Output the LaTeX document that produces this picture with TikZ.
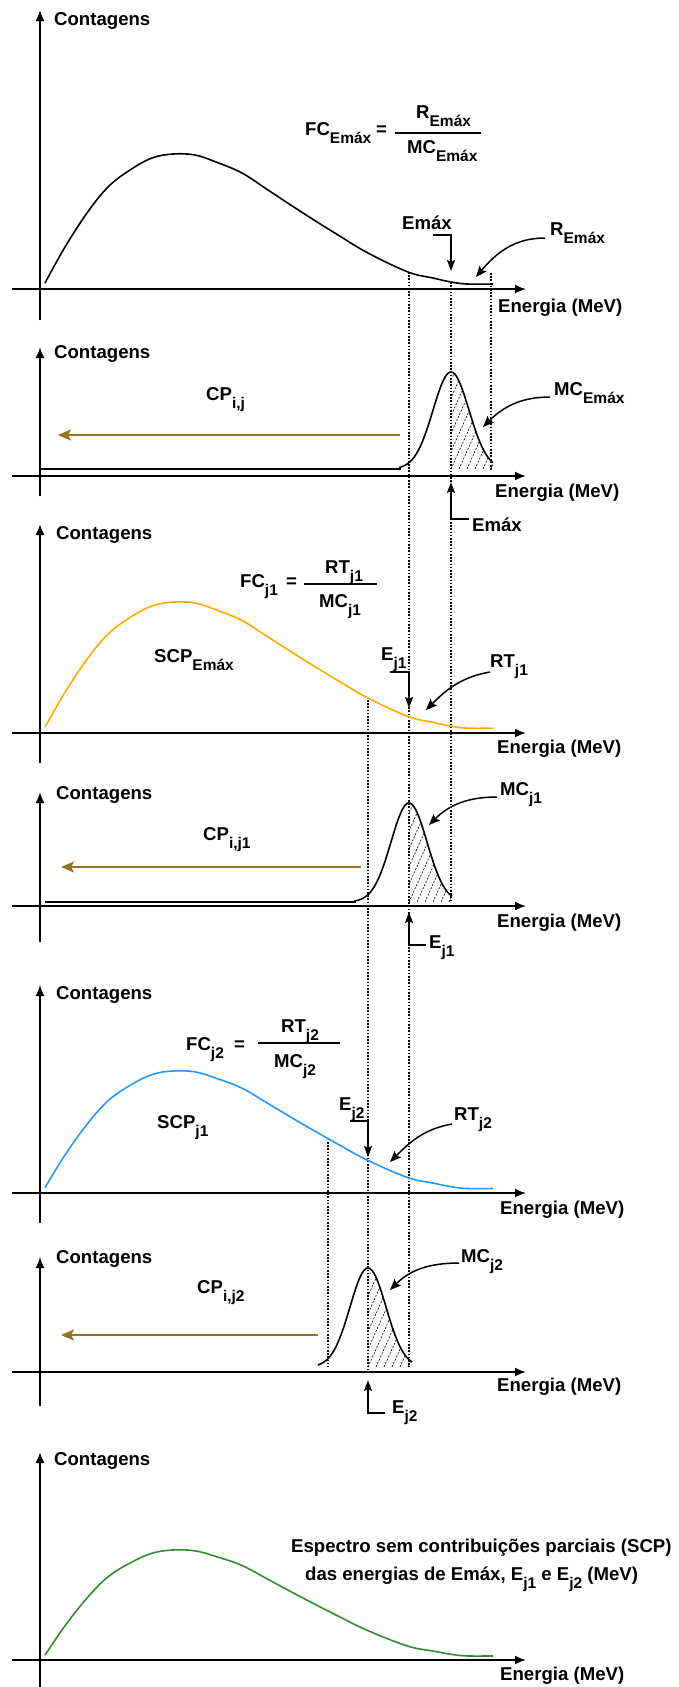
\documentclass[tikz,border=0pt]{standalone}
\usepackage{fontspec}
\setmainfont{Liberation Sans}
\usetikzlibrary{arrows.meta}
\definecolor{cpbrown}{RGB}{150,115,30}
\definecolor{specorange}{RGB}{255,170,0}
\definecolor{specblue}{RGB}{40,150,255}
\definecolor{specgreen}{RGB}{50,140,50}
\newcommand{\sbs}[1]{\raisebox{-8pt}{\fontsize{15.5}{15.5}\selectfont #1}}
\tikzset{
  lbl/.style={inner sep=0pt, anchor=base west, font=\fontsize{18.6}{20}\selectfont\bfseries},
  axisln/.style={line width=1.8pt, -{Latex[length=11pt,width=9pt]}},
  dotln/.style={line width=1.1pt, dash pattern=on 1.6pt off 1.6pt},
  callout/.style={line width=1.5pt, -{Stealth[length=11pt,width=9pt,inset=2pt]}},
  bracket/.style={line width=1.5pt, -{Stealth[length=11pt,width=8pt,inset=2pt]}},
  spec/.style={line width=1.6pt},
  cparrow/.style={line width=2pt, cpbrown, -{Stealth[length=13pt,width=11pt,inset=3pt]}},
  hatchln/.style={line width=0.6pt, dash pattern=on 2pt off 1.5pt},
  fracbar/.style={line width=1.5pt},
}
\begin{document}
\begin{tikzpicture}[x=1pt,y=-1pt]
\useasboundingbox (0,0) rectangle (679,1687);

% ---------- dotted guide lines ----------
\coordinate (L4a) at (491,273);  \coordinate (L4b) at (491,470);
\coordinate (L3a) at (451,282);  \coordinate (L3b) at (451,902);
\coordinate (L2a) at (409,272);  \coordinate (L2b) at (409,1367);
\coordinate (L1a) at (368,700);  \coordinate (L1b) at (368,1372);
\coordinate (L0a) at (328,1142); \coordinate (L0b) at (328,1367);
\draw[dotln] (L4a) -- (L4b);
\draw[dotln] (L3a) -- (L3b);
\draw[dotln] (L2a) -- (L2b);
\draw[dotln] (L1a) -- (L1b);
\draw[dotln] (L0a) -- (L0b);

% ---------- axes ----------
\foreach \n/\yt/\yb/\ya in {1/10/320/289, 2/347/496/476, 3/524/763/733, 4/792/942/906, 5/985/1223/1193, 6/1257/1406/1372, 7/1452/1687/1660} {
  \coordinate (yb\n) at (40,\yb);
  \coordinate (yt\n) at (40,\yt);
  \coordinate (xl\n) at (12,\ya);
  \coordinate (xr\n) at (526,\ya);
  \draw[axisln] (yb\n) -- (yt\n);
  \draw[axisln] (xl\n) -- (xr\n);
}
\foreach \n/\cx/\cy/\ex/\ey in {1/54/25/498/312, 2/54/358/495/497, 3/56/539/497/753, 4/56/799/497/927, 5/56/999/500/1214, 6/56/1263/497/1391, 7/54/1465/500/1680} {
  \node[lbl] (cont\n) at (\cx,\cy) {Contagens};
  \node[lbl] (ener\n) at (\ex,\ey) {Energia (MeV)};
}

% ---------- panel 1 ----------
\begin{scope}[shift={(0,289)}]
\draw[spec] plot[smooth, tension=0.6] coordinates {(45,-6) (65,-42) (87,-76) (108,-102) (130,-119) (152,-131) (173,-135) (195,-134) (216,-127) (242,-116) (268,-99) (303,-76) (338,-54) (368,-36) (408,-17) (433,-11) (451,-7) (467,-5) (493,-5)};
\end{scope}
\node[lbl] (fc1) at (305,135) {FC\sbs{Emáx}};
\node[lbl] (eq1) at (376,135) {=};
\node[lbl] (num1) at (416,118) {R\sbs{Emáx}};
\node[lbl] (den1) at (407,153) {MC\sbs{Emáx}};
\coordinate (bar1a) at (395,133); \coordinate (bar1b) at (481,133);
\draw[fracbar] (bar1a) -- (bar1b);
\node[lbl] (emax1) at (402,229) {Emáx};
\coordinate (em1s) at (433,235); \coordinate (em1t) at (451,271);
\draw[bracket] (em1s) -| (em1t);
\node[lbl] (remax) at (550,235) {R\sbs{Emáx}};
\coordinate (re1s) at (545,238); \coordinate (re1t) at (476,277);
\draw[callout] (re1s) to[out=180,in=50] (re1t);

% ---------- panel 2 ----------
\begin{scope}
\clip (451,469) -- plot[domain=451:493, samples=40] (\x,{469-97*exp(-0.5*((\x-451)/18)*((\x-451)/18))}) -- (493,469) -- cycle;
\foreach \k in {-64,-56,...,48} { \draw[hatchln] ({451+\k},469) -- ++(45,-100); }
\end{scope}
\draw[spec] (41,469) -- (400,469) -- plot[domain=400:493, samples=80] (\x,{469-97*exp(-0.5*((\x-451)/18)*((\x-451)/18))});
\node[lbl] (cp1) at (206,400) {CP\sbs{i,j}};
\coordinate (cp1s) at (400,435); \coordinate (cp1t) at (58,435);
\draw[cparrow] (cp1s) -- (cp1t);
\node[lbl] (mce) at (554,395) {MC\sbs{Emáx}};
\coordinate (mce_s) at (550,397); \coordinate (mce_t) at (483,427);
\draw[callout] (mce_s) to[out=180,in=45] (mce_t);
\node[lbl] (emax2) at (472,531) {Emáx};
\coordinate (em2s) at (469,519); \coordinate (em2t) at (451,482);
\draw[bracket] (em2s) -| (em2t);

% ---------- panel 3 ----------
\begin{scope}[shift={(0,733)}, yscale=0.97]
\draw[spec, specorange] plot[smooth, tension=0.6] coordinates {(45,-6) (65,-42) (87,-76) (108,-102) (130,-119) (152,-131) (173,-135) (195,-134) (216,-127) (242,-116) (268,-99) (303,-76) (338,-54) (368,-36) (408,-17) (433,-11) (451,-7) (467,-5) (493,-5)};
\end{scope}
\node[lbl] (fcj1) at (240,587) {FC\sbs{j1}};
\node[lbl] (eq3) at (286,587) {=};
\node[lbl] (num3) at (325,573) {RT\sbs{j1}};
\node[lbl] (den3) at (319,607) {MC\sbs{j1}};
\coordinate (bar3a) at (304,584); \coordinate (bar3b) at (377,584);
\draw[fracbar] (bar3a) -- (bar3b);
\node[lbl] (scpe) at (154,662) {SCP\sbs{Emáx}};
\node[lbl] (ej1) at (381,660) {E\sbs{j1}};
\coordinate (ej1s) at (390,672); \coordinate (ej1t) at (409,708);
\draw[bracket] (ej1s) -| (ej1t);
\node[lbl] (rtj1) at (490,667) {RT\sbs{j1}};
\coordinate (rt1s) at (490,672); \coordinate (rt1t) at (426,710);
\draw[callout] (rt1s) to[out=190,in=45] (rt1t);

% ---------- panel 4 ----------
\begin{scope}
\clip (409,902) -- plot[domain=409:452, samples=40] (\x,{902-99*exp(-0.5*((\x-409)/18)*((\x-409)/18))}) -- (452,902) -- cycle;
\foreach \k in {-64,-56,...,48} { \draw[hatchln] ({409+\k},902) -- ++(45,-100); }
\end{scope}
\draw[spec] (45,902) -- (355,902) -- plot[domain=355:452, samples=80] (\x,{902-99*exp(-0.5*((\x-409)/18)*((\x-409)/18))});
\node[lbl] (cp4) at (203,840) {CP\sbs{i,j1}};
\coordinate (cp4s) at (361,867); \coordinate (cp4t) at (61,867);
\draw[cparrow] (cp4s) -- (cp4t);
\node[lbl] (mcj1) at (500,795) {MC\sbs{j1}};
\coordinate (mc4s) at (497,797); \coordinate (mc4t) at (429,825);
\draw[callout] (mc4s) to[out=180,in=45] (mc4t);
\node[lbl] (ej1b) at (429,948) {E\sbs{j1}};
\coordinate (ej1bs) at (426,945); \coordinate (ej1bt) at (409,912);
\draw[bracket] (ej1bs) -| (ej1bt);

% ---------- panel 5 ----------
\begin{scope}[shift={(0,1193)}, yscale=0.904]
\draw[spec, specblue] plot[smooth, tension=0.6] coordinates {(45,-6) (65,-42) (87,-76) (108,-102) (130,-119) (152,-131) (173,-135) (195,-134) (216,-127) (242,-116) (268,-99) (303,-76) (338,-54) (368,-36) (408,-17) (433,-11) (451,-7) (467,-5) (493,-5)};
\end{scope}
\node[lbl] (fcj2) at (186,1050) {FC\sbs{j2}};
\node[lbl] (eq5) at (234,1050) {=};
\node[lbl] (num5) at (281,1032) {RT\sbs{j2}};
\node[lbl] (den5) at (274,1067) {MC\sbs{j2}};
\coordinate (bar5a) at (258,1043); \coordinate (bar5b) at (340,1043);
\draw[fracbar] (bar5a) -- (bar5b);
\node[lbl] (scpj1) at (157,1128) {SCP\sbs{j1}};
\node[lbl] (ej2) at (339,1110) {E\sbs{j2}};
\coordinate (ej2s) at (350,1121); \coordinate (ej2t) at (368,1157);
\draw[bracket] (ej2s) -| (ej2t);
\node[lbl] (rtj2) at (454,1120) {RT\sbs{j2}};
\coordinate (rt2s) at (452,1124); \coordinate (rt2t) at (390,1162);
\draw[callout] (rt2s) to[out=190,in=45] (rt2t);

% ---------- panel 6 ----------
\begin{scope}
\clip (368,1367) -- plot[domain=368:412, samples=40] (\x,{1367-99*exp(-0.5*((\x-368)/18)*((\x-368)/18))}) -- (412,1367) -- cycle;
\foreach \k in {-64,-56,...,48} { \draw[hatchln] ({368+\k},1367) -- ++(45,-100); }
\end{scope}
\draw[spec] plot[domain=318:412, samples=80] (\x,{1367-99*exp(-0.5*((\x-368)/18)*((\x-368)/18))});
\node[lbl] (cp6) at (197,1293) {CP\sbs{i,j2}};
\coordinate (cp6s) at (318,1335); \coordinate (cp6t) at (61,1335);
\draw[cparrow] (cp6s) -- (cp6t);
\node[lbl] (mcj2) at (461,1262) {MC\sbs{j2}};
\coordinate (mc6s) at (459,1263); \coordinate (mc6t) at (390,1290);
\draw[callout] (mc6s) to[out=180,in=45] (mc6t);
\node[lbl] (ej2b) at (392,1413) {E\sbs{j2}};
\coordinate (ej2bs) at (385,1413); \coordinate (ej2bt) at (368,1380);
\draw[bracket] (ej2bs) -| (ej2bt);

% ---------- panel 7 ----------
\begin{scope}[shift={(0,1660)}, yscale=0.815]
\draw[spec, specgreen] plot[smooth, tension=0.6] coordinates {(45,-6) (65,-42) (87,-76) (108,-102) (130,-119) (152,-131) (173,-135) (195,-134) (216,-127) (242,-116) (268,-99) (303,-76) (338,-54) (368,-36) (408,-17) (433,-11) (451,-7) (467,-5) (493,-5)};
\end{scope}
\node[lbl] (esp1) at (291,1552) {Espectro sem contribuições parciais (SCP)};
\node[lbl] (esp2) at (305,1580) {das energias de Emáx, E\sbs{j1} e E\sbs{j2} (MeV)};
\end{tikzpicture}
\end{document}
